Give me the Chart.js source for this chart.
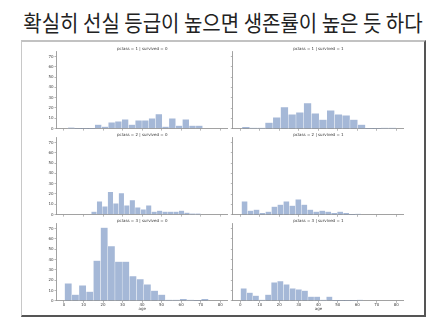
<!DOCTYPE html>
<html><head><meta charset="utf-8">
<script src="https://cdn.jsdelivr.net/npm/chart.js@4/dist/chart.umd.min.js"></script>
<style>
html,body{margin:0;padding:0;background:#fff;}
body{width:446px;height:327px;position:relative;overflow:hidden;}
#title{position:absolute;left:0;top:7px;width:446px;text-align:center;font-family:"Noto Sans CJK KR";font-size:20px;color:#222;line-height:30px;white-space:nowrap;transform:scaleY(1.08);}
#frame{position:absolute;box-sizing:border-box;left:21px;top:40px;width:405px;height:277px;border-top:2px solid #c2c2c2;border-left:1px solid #c8c8c8;border-right:2px solid #555;border-bottom:2px solid #555;}
canvas{position:absolute;}
</style></head><body>
<div id="title">확실히 선실 등급이 높으면 생존률이 높은 듯 하다</div>
<div id="frame"></div>
<script>
// ---- data ----
const pclassValues = [1, 2, 3];
const survivedValues = [0, 1];
const xTickValues = [0, 10, 20, 30, 40, 50, 60, 70, 80];
const yTickValues = [0, 10, 20, 30, 40, 50, 60, 70];
const ageAxisRange = [-3.82, 83.99];
const countAxisMax = 74.55;

// each facet: 20 equal-width age bins between its own [min, max] age
const range_p1_s0 = [2, 71];
const counts_p1_s0 = [1, 0, 0, 0, 4, 2, 6, 7, 9, 4, 8, 8, 10, 14, 2, 10, 3, 9, 3, 3];
const range_p1_s1 = [0.92, 80];
const counts_p1_s1 = [2, 1, 1, 6, 11, 21, 14, 16, 25, 15, 9, 18, 14, 13, 9, 4, 0, 0, 1, 1];
const range_p2_s0 = [14, 70];
const counts_p2_s0 = [3, 13, 8, 22, 11, 21, 9, 14, 7, 5, 9, 3, 4, 3, 3, 3, 4, 2, 1, 1];
const range_p2_s1 = [0.67, 62];
const counts_p2_s1 = [13, 4, 5, 2, 3, 8, 10, 13, 9, 15, 10, 5, 3, 4, 3, 2, 3, 2, 0, 1];
const range_p3_s0 = [0.33, 74];
const counts_p3_s0 = [17, 6, 15, 9, 39, 71, 53, 38, 38, 24, 21, 16, 10, 6, 1, 1, 2, 1, 0, 2];
const range_p3_s1 = [0.17, 63];
const counts_p3_s1 = [12, 8, 5, 1, 6, 18, 19, 16, 12, 11, 10, 4, 4, 1, 4, 0, 0, 0, 0, 1];

const facetRanges = [[range_p1_s0, range_p1_s1], [range_p2_s0, range_p2_s1], [range_p3_s0, range_p3_s1]];
const facetCounts = [[counts_p1_s0, counts_p1_s1], [counts_p2_s0, counts_p2_s1], [counts_p3_s0, counts_p3_s1]];

// ---- layout ----
const rowTops = [47, 133, 219];
const colLefts = [26, 202];
const yAxisWidths = [30.5, 30.8];
const canvasW = 202;
const titleH = 4.8;
const plotH = 77;

Chart.defaults.font.family = "'DejaVu Sans', sans-serif";
Chart.defaults.font.size = 4;
Chart.defaults.color = '#444';

function binPoints(range, counts) {
  const w = (range[1] - range[0]) / counts.length;
  return counts.map((c, k) => ({x: range[0] + w * (k + 0.5), y: c}));
}

pclassValues.forEach((pc, r) => {
  survivedValues.forEach((sv, c) => {
    const bottomRow = r === pclassValues.length - 1;
    const xH = bottomRow ? 10.2 : 3.2;
    const cH = Math.round(titleH + plotH + xH);
    const cv = document.createElement('canvas');
    cv.width = canvasW; cv.height = cH;
    cv.style.left = colLefts[c] + 'px';
    cv.style.top = rowTops[r] + 'px';
    cv.style.width = canvasW + 'px';
    cv.style.height = cH + 'px';
    document.body.appendChild(cv);
    const xHeight = cH - titleH - plotH;
    new Chart(cv, {
      type: 'bar',
      data: {
        datasets: [{
          data: binPoints(facetRanges[r][c], facetCounts[r][c]),
          backgroundColor: 'rgba(76,114,176,0.5)',
          borderColor: 'rgba(255,255,255,0.55)',
          borderWidth: (ctx) => (ctx.raw && ctx.raw.y > 0 ? 0.5 : 0),
          barPercentage: 1,
          categoryPercentage: 1,
          borderSkipped: 'start'
        }]
      },
      options: {
        responsive: false,
        animation: false,
        devicePixelRatio: 1,
        layout: {padding: 0},
        events: [],
        plugins: {
          legend: {display: false},
          tooltip: {enabled: false},
          title: {
            display: true,
            fullSize: false,
            text: 'pclass = ' + pc + ' | survived = ' + sv,
            font: {size: 4, weight: 'normal'},
            color: '#333',
            padding: 0
          }
        },
        scales: {
          x: {
            type: 'linear',
            offset: false,
            min: ageAxisRange[0],
            max: ageAxisRange[1],
            afterBuildTicks: (s) => { s.ticks = xTickValues.map(v => ({value: v})); },
            afterFit: (s) => { s.height = xHeight; },
            ticks: {display: bottomRow, padding: 0, maxRotation: 0, autoSkip: false, font: {size: 4}, color: '#444'},
            grid: {offset: false, drawOnChartArea: false, drawTicks: true, tickLength: 2, color: '#8a8a8a', lineWidth: 0.6},
            border: {display: true, color: '#8a8a8a', width: 0.8},
            title: {display: bottomRow, text: 'age', font: {size: 4}, color: '#444', padding: 0}
          },
          y: {
            min: 0,
            max: countAxisMax,
            afterBuildTicks: (s) => { s.ticks = yTickValues.map(v => ({value: v})); },
            afterFit: (s) => { s.width = yAxisWidths[c]; },
            ticks: {display: c === 0, padding: 1, font: {size: 4}, color: '#444'},
            grid: {drawOnChartArea: false, drawTicks: true, tickLength: 2, color: '#8a8a8a', lineWidth: 0.6},
            border: {display: true, color: '#8a8a8a', width: 0.8}
          }
        }
      }
    });
  });
});
</script>
</body></html>
